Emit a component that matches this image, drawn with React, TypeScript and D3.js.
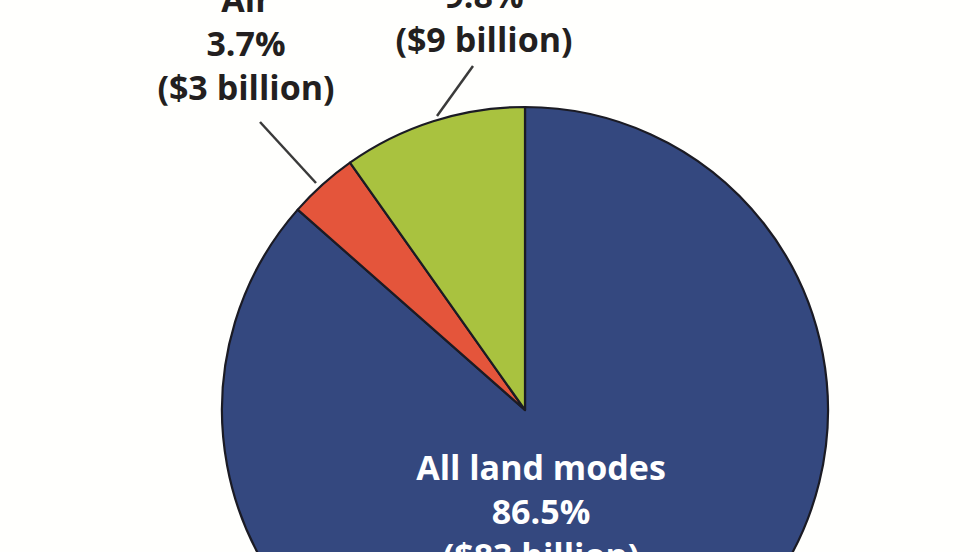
import React from "react";
import * as d3 from "d3";

const categories = ["All land modes", "Air", "Water"];
const shares = [86.5, 3.7, 9.8];
const valueLabels = ["($83 billion)", "($3 billion)", "($9 billion)"];
const colors = ["#34487f", "#e4553b", "#a9c23f"];

const W = 980;
const H = 552;
const cx = 525;
const cy = 410;
const R = 303;

export default function App() {
  const pie = d3.pie<number>().sort(null).value((d) => d);
  const arcs = pie(shares);
  const arcGen = d3.arc<d3.PieArcDatum<number>>().innerRadius(0).outerRadius(R);
  const fmt = (v: number) => `${v.toFixed(1)}%`;
  const font = "'Open Sans', 'DejaVu Sans', sans-serif";
  const fs = 34;
  const lineH = 44;

  // label anchor positions (centre x, first baseline y) relative to page
  const labelPos = [
    { x: 541, y: 480, fill: "#ffffff" },
    { x: 246, y: 12, fill: "#231f20" },
    { x: 484, y: 8 - lineH + 44, fill: "#231f20" },
  ];
  // the water label: first line is above the visible area
  labelPos[2] = { x: 484, y: 8 - lineH, fill: "#231f20" };

  return (
    <svg
      width={W}
      height={H}
      style={{ position: "absolute", left: 0, top: 0, background: "#fffffd" }}
    >
      <rect x={0} y={0} width={W} height={H} fill="#fffffd" />
      <g transform={`translate(${cx},${cy})`}>
        {arcs.map((a, i) => (
          <path
            key={categories[i]}
            d={arcGen(a) || ""}
            fill={colors[i]}
            stroke="#1b1b24"
            strokeWidth={2.2}
            strokeLinejoin="round"
          />
        ))}
      </g>
      {/* leader lines */}
      <line x1={260} y1={122} x2={316} y2={183} stroke="#3a3a3a" strokeWidth={2.5} />
      <line x1={473} y1={66} x2={437} y2={116} stroke="#3a3a3a" strokeWidth={2.5} />
      {categories.map((c, i) => {
        const p = labelPos[i];
        return (
          <text
            key={c}
            x={p.x}
            y={p.y}
            textAnchor="middle"
            fontFamily={font}
            fontWeight={700}
            fontSize={fs}
            fill={p.fill}
          >
            <tspan x={p.x} dy={0}>{c}</tspan>
            <tspan x={p.x} dy={lineH}>{fmt(shares[i])}</tspan>
            <tspan x={p.x} dy={lineH}>{valueLabels[i]}</tspan>
          </text>
        );
      })}
    </svg>
  );
}
